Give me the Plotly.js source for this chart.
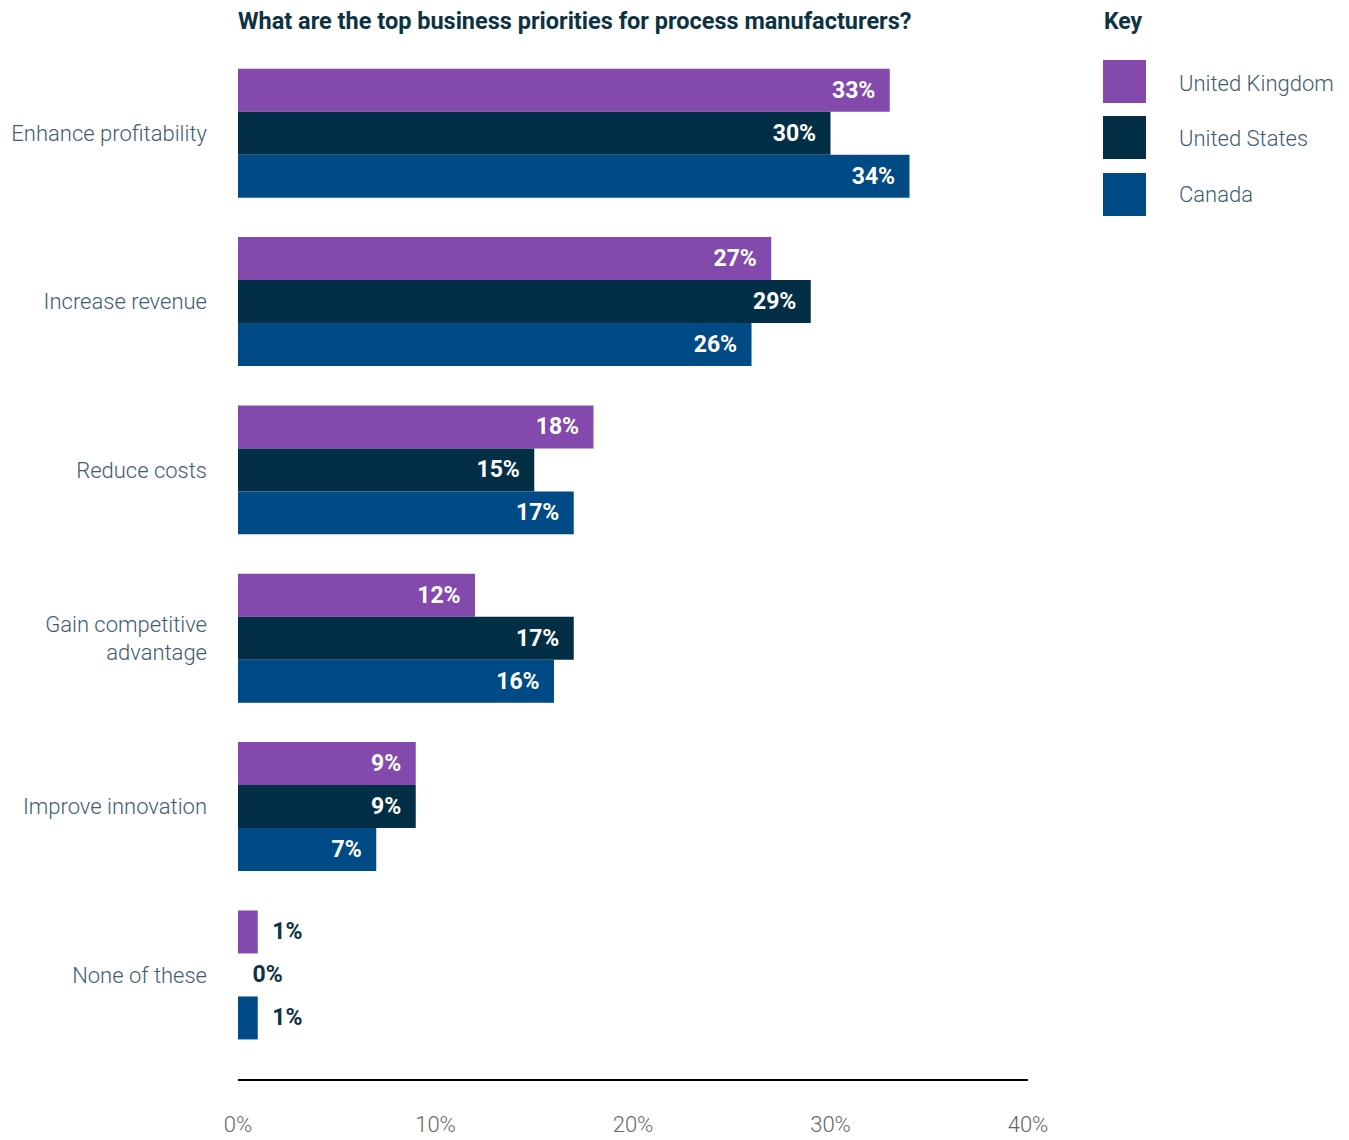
<!DOCTYPE html>
<html>
<head>
<meta charset="utf-8">
<script src="https://cdn.plot.ly/plotly-3.0.1.min.js"></script>
<style>html,body{margin:0;padding:0;background:#fff;}#chart{width:1349px;height:1140px;}</style>
</head>
<body>
<div id="chart"></div>
<script>
const categories = ["Enhance profitability", "Increase revenue", "Reduce costs", "Gain competitive<br>advantage", "Improve innovation", "None of these"];
const seriesNames = ["United Kingdom", "United States", "Canada"];
const ukValues = [33, 27, 18, 12, 9, 1];
const usValues = [30, 29, 15, 17, 9, 0];
const caValues = [34, 26, 17, 16, 7, 1];
const xTickValues = [0, 10, 20, 30, 40];
const xTickLabels = ["0%", "10%", "20%", "30%", "40%"];
const chartTitle = "What are the top business priorities for process manufacturers?";
const keyTitle = "Key";

const colors = ["#8349AC", "#022F45", "#004A86"];
const allValues = [ukValues, usValues, caValues];
const NB = "\u00a0";

// layout helpers (pixel -> paper)
const L = 238, W = 790, T = 49, H = 1030;
const px = p => (p - L) / W;
const py = p => (1079 - p) / H;

const traces = allValues.map((vals, i) => {
  const small = vals.map(v => v < 3);
  return {
    type: "bar",
    orientation: "h",
    name: seriesNames[i],
    y: categories,
    x: vals,
    marker: {color: colors[i], line: {width: 0}},
    text: vals.map(v => v + "%"),
    texttemplate: small.map(s => s ? (NB + NB + "%{text}") : ("%{text}" + NB + NB)),
    textposition: small.map(s => s ? "outside" : "inside"),
    insidetextanchor: "end",
    textangle: 0,
    insidetextfont: {family: "Roboto", size: 23, color: "#ffffff", weight: 700},
    outsidetextfont: {family: "Roboto", size: 23, color: "#0D3343", weight: 700},
    constraintext: "none",
    cliponaxis: false,
    hoverinfo: "skip",
    showlegend: false
  };
});

const shapes = [];
const annotations = [];
const keyY = [[60, 103, 83], [116, 159, 139], [173, 216, 195]];
seriesNames.forEach((n, i) => {
  shapes.push({type: "rect", xref: "paper", yref: "paper",
    x0: px(1103), x1: px(1146), y0: py(keyY[i][1]), y1: py(keyY[i][0]),
    fillcolor: colors[i], line: {width: 0}});
  annotations.push({xref: "paper", yref: "paper", x: px(1177), y: py(keyY[i][2]),
    xanchor: "left", yanchor: "middle", showarrow: false, text: n,
    font: {family: "Roboto", size: 22, color: "#3F5C6E", weight: 300}});
});
annotations.push({xref: "paper", yref: "paper", x: px(1102), y: py(21),
  xanchor: "left", yanchor: "middle", showarrow: false, text: keyTitle,
  font: {family: "Roboto", size: 23, color: "#0D3343", weight: 700}});

const layout = {
  width: 1349, height: 1140,
  margin: {l: L, r: 1349 - L - W, t: T, b: 1140 - T - H, pad: 0},
  paper_bgcolor: "#ffffff", plot_bgcolor: "#ffffff",
  barmode: "group", bargap: 0.234, bargroupgap: 0,
  title: {text: "<b>" + chartTitle + "</b>", xref: "paper", x: 0, xanchor: "left",
    yref: "container", y: 1 - 21 / 1140, yanchor: "middle",
    font: {family: "Roboto", size: 23.5, color: "#0D3343"}},
  xaxis: {range: [0, 40], tickvals: xTickValues, ticktext: xTickLabels,
    showgrid: false, zeroline: false, showline: true, linecolor: "#000000", linewidth: 1.5,
    ticks: "", ticklabelstandoff: 25,
    tickfont: {family: "Roboto", size: 22, color: "#666666", weight: 300},
    fixedrange: true},
  yaxis: {type: "category", range: [5.618, -0.5], showgrid: false, zeroline: false,
    showline: false, ticks: "", ticklabelstandoff: 30,
    tickfont: {family: "Roboto", size: 22, color: "#3F5C6E", weight: 300},
    fixedrange: true},
  shapes: shapes,
  annotations: annotations,
  showlegend: false,
  font: {family: "Roboto"}
};

Plotly.newPlot("chart", traces, layout, {displayModeBar: false, staticPlot: true});
</script>
</body>
</html>
